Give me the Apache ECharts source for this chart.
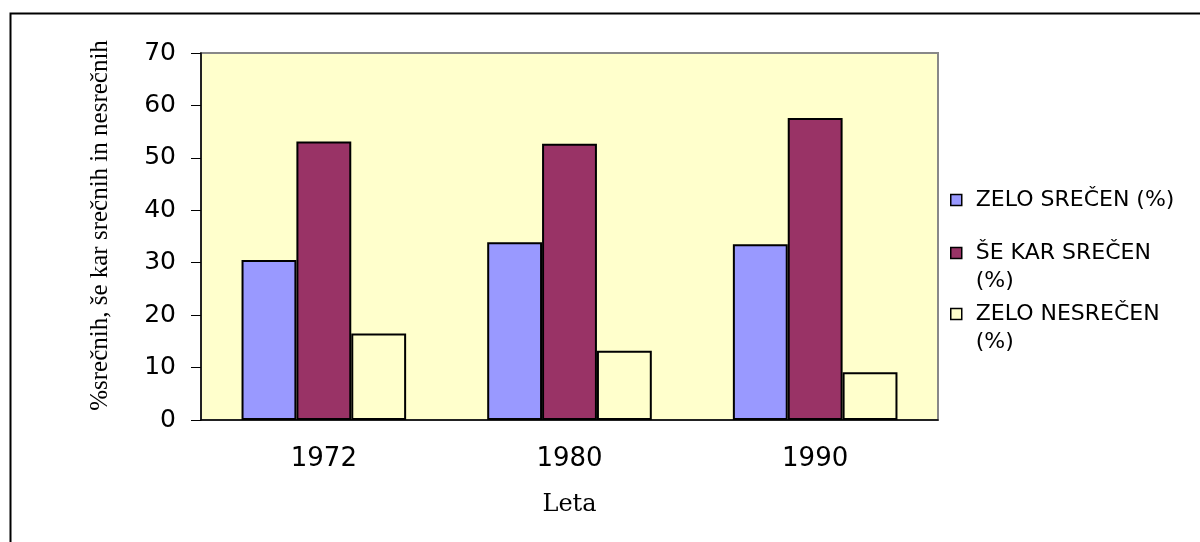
<!DOCTYPE html>
<html>
<head>
<meta charset="utf-8">
<script src="https://cdn.jsdelivr.net/npm/echarts@6/dist/echarts.min.js"></script>
<style>
  html, body { margin: 0; padding: 0; background: #fff; }
  #chart { width: 1200px; height: 542px; }
</style>
</head>
<body>
<div id="chart"></div>
<script>
// data
var years = ['1972', '1980', '1990']
var zeloSrecen = [30.5, 33.9, 33.5]
var seKarSrecen = [53.1, 52.7, 57.6]
var zeloNesrecen = [16.5, 13.2, 9.1]
// legend text lines; a leading blank line keeps the marker beside the first line
var legendLines = [['ZELO SREČEN (%)'], ['', 'ŠE KAR SREČEN', '(%)'], ['', 'ZELO NESREČEN', '(%)']]

var names = ['ZELO SREČEN (%)', 'ŠE KAR SREČEN (%)', 'ZELO NESREČEN (%)']
var colors = ['#9999FF', '#993366', '#FFFFCC']
var values = [zeloSrecen, seKarSrecen, zeloNesrecen]

var legendTops = [186, 211, 272]
var legends = names.map(function (n, i) {
  return {
    orient: 'vertical',
    left: 950,
    top: legendTops[i],
    padding: 0,
    data: [n],
    icon: 'rect',
    itemWidth: 11,
    itemHeight: 11,
    itemStyle: { borderColor: '#000', borderWidth: 1.5 },
    formatter: function () {
      return legendLines[i].map(function (s) { return s ? '{t|' + s + '}' : '' }).join('\n')
    },
    textStyle: {
      fontFamily: 'DejaVu Sans',
      fontSize: 22,
      lineHeight: 28,
      color: '#000',
      rich: {
        t: { fontFamily: 'DejaVu Sans', fontSize: 22, lineHeight: 28, color: '#000', padding: [0, 0, 0, 9] }
      }
    },
    selectedMode: false
  }
})

var chart = echarts.init(document.getElementById('chart'))
chart.setOption({
  animation: false,
  color: colors,
  graphic: [{
    type: 'rect',
    left: 8,
    top: 11,
    z: -10,
    shape: { width: 1260, height: 620 },
    style: { fill: 'none', stroke: '#000', lineWidth: 2 }
  }],
  legend: legends,
  grid: {
    left: 201,
    right: 262,
    top: 53,
    bottom: 122,
    show: true,
    backgroundColor: '#FFFFCC',
    borderColor: '#888',
    borderWidth: 2
  },
  xAxis: {
    type: 'category',
    data: years,
    name: 'Leta',
    nameLocation: 'middle',
    nameGap: 73,
    nameTextStyle: { fontFamily: 'DejaVu Serif', fontSize: 24, color: '#000' },
    axisLine: { lineStyle: { color: '#000', width: 1.5 } },
    axisTick: { length: 8, lineStyle: { color: '#000' } },
    axisLabel: { margin: 26, fontFamily: 'DejaVu Sans', fontSize: 26, color: '#000' }
  },
  yAxis: {
    type: 'value',
    min: 0,
    max: 70,
    interval: 10,
    name: '%srečnih, še kar srečnih in nesrečnih',
    nameLocation: 'middle',
    nameGap: 88,
    nameTextStyle: {
      fontFamily: 'Liberation Serif',
      fontSize: 25,
      color: '#000',
      padding: [0, 0, 0, 22]
    },
    axisLine: { show: true, lineStyle: { color: '#000', width: 1.5 } },
    axisTick: { show: true, length: 10, lineStyle: { color: '#000' } },
    axisLabel: { margin: 25, fontFamily: 'DejaVu Sans', fontSize: 25, color: '#000' },
    splitLine: { show: false }
  },
  series: names.map(function (n, i) {
    return {
      name: n,
      type: 'bar',
      data: values[i],
      barGap: '0%',
      barCategoryGap: '33%',
      itemStyle: { color: colors[i], borderColor: '#000', borderWidth: 2 }
    }
  })
})
</script>
</body>
</html>
